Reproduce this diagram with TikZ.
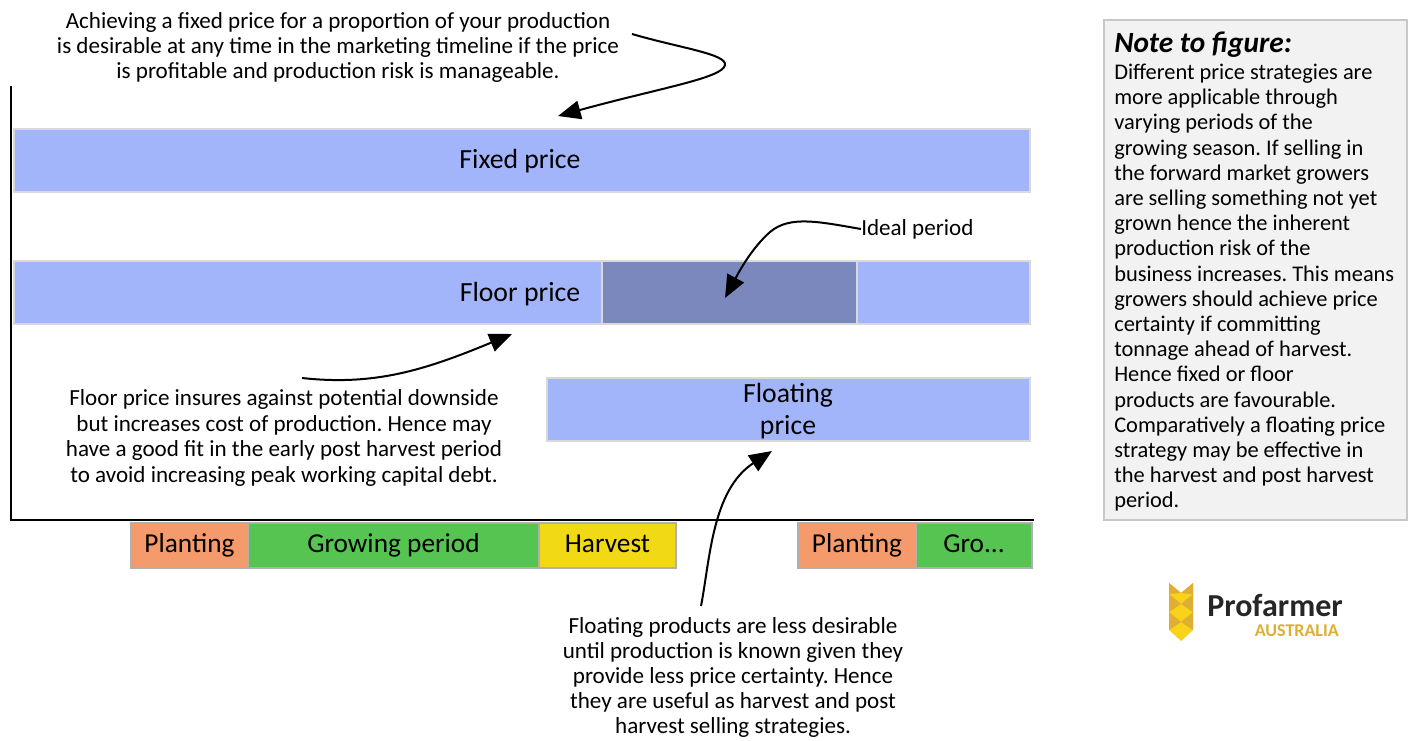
\documentclass[tikz,border=0pt]{standalone}
\usepackage{fontspec}
\usepackage{tikz}
\usetikzlibrary{arrows.meta}
\setmainfont{Carlito}
\frenchspacing
\definecolor{barblue}{HTML}{A3B5FA}
\definecolor{bardark}{HTML}{7B88BE}
\definecolor{barline}{HTML}{D9D9D9}
\definecolor{stageline}{HTML}{B0B0B0}
\definecolor{plantcol}{HTML}{F59B6B}
\definecolor{growcol}{HTML}{56C451}
\definecolor{harvestcol}{HTML}{F2D916}
\definecolor{notefill}{HTML}{F2F2F2}
\definecolor{noteline}{HTML}{C8C8C8}
\definecolor{logoyellow}{HTML}{F9D21A}
\definecolor{logogold}{HTML}{DFAE35}
\tikzset{
  barbox/.style={draw=barline,line width=1.5pt,fill=barblue,inner sep=0pt},
  bartext/.style={inner sep=0pt,align=center,font=\fontsize{20.8}{24}\selectfont},
  stagebox/.style={draw=stageline,line width=1.2pt,inner sep=0pt,text height=14pt,text depth=3.5pt,
    minimum height=33.75pt,font=\fontsize{20.5}{24}\selectfont},
  callout/.style={inner sep=0pt,align=center,font=\fontsize{17.3}{19.1}\selectfont},
  pointer/.style={line width=1.5pt,-{Triangle[length=17pt,width=14pt]}},
}
\begin{document}
\begin{tikzpicture}[x=0.75pt,y=0.75pt,yscale=-1,xscale=1]
\useasboundingbox (0,0) rectangle (1410,740);

% Axes
\coordinate (axistop) at (11,86);
\coordinate (axisorigin) at (11,520);
\coordinate (axisend) at (1034,520);
\draw [line width=1.5pt] (axistop) -- (axisorigin) -- (axisend);

% Price bars
\node [barbox,minimum width=762pt,minimum height=47.25pt] (fixedbar) at (522,160.5) {};
\node [bartext] (fixedtext) at (520,161) {Fixed price};
\node [barbox,minimum width=441pt,minimum height=47.25pt] (floorleft) at (308,292.5) {};
\node [barbox,fill=bardark,minimum width=191.25pt,minimum height=47.25pt] (floorideal) at (729.5,292.5) {};
\node [barbox,minimum width=129.75pt,minimum height=47.25pt] (floorright) at (943.5,292.5) {};
\node [bartext] (floortext) at (520,294) {Floor price};
\node [barbox,minimum width=362.25pt,minimum height=47.25pt] (floatbar) at (788.5,409.5) {};
\node [bartext] (floattext) at (788,411) {Floating\\price};

% Timeline
\node [stagebox,fill=plantcol,minimum width=87.75pt] (planta) at (189.5,545.5) {Planting};
\node [stagebox,fill=growcol,minimum width=218.25pt] (growa) at (393.5,545.5) {Growing period};
\node [stagebox,fill=harvestcol,minimum width=102.75pt] (harvesta) at (607.5,545.5) {Harvest};
\node [stagebox,fill=plantcol,minimum width=88.5pt] (plantb) at (857,545.5) {Planting};
\node [stagebox,fill=growcol,minimum width=87pt] (growb) at (974,545.5) {Gro...};

% Text Node
\node [callout] (fixednote) at (338,47.5) {Achieving a fixed price for a proportion of your production\\is desirable at any time in the marketing timeline if the price\\is profitable and production risk is manageable.};
% Text Node
\node [callout] (floornote) at (284,438) {Floor price insures against potential downside\\but increases cost of production. Hence may\\have a good fit in the early post harvest period\\to avoid increasing peak working capital debt.};
% Text Node
\node [callout,font=\fontsize{17.3}{18.8}\selectfont] (floatnote) at (733,677.5) {Floating products are less desirable\\until production is known given they\\provide less price certainty. Hence\\they are useful as harvest and post\\harvest selling strategies.};
% Text Node
\node [callout,anchor=west] (idealnote) at (861,229) {Ideal period};

% Connection
\coordinate (fixedstart) at (632,34);
\coordinate (fixedtip) at (558,116);
\draw [pointer] (fixedstart) .. controls (680,48) and (727,54) .. (725,65) .. controls (723,78) and (660,88) .. (fixedtip);
% Connection
\coordinate (idealtip) at (725,298);
\draw [pointer] (idealnote.west) .. controls (820,222) and (790,215) .. (770,232) .. controls (752,248) and (740,270) .. (idealtip);
% Connection
\coordinate (floorstart) at (302,378);
\coordinate (floortip) at (512,334);
\draw [pointer] (floorstart) .. controls (375,386) and (425,370) .. (floortip);
% Connection
\coordinate (floatstart) at (701,606);
\coordinate (floattip) at (772,451);
\draw [pointer] (floatstart) .. controls (710,560) and (712,490) .. (floattip);

% Note to figure
\node [draw=noteline,line width=1pt,fill=notefill,minimum width=227.25pt,minimum height=375pt,inner sep=0pt] (notebox) at (1255.5,270) {};
\node [anchor=north west,inner sep=0pt,align=left,font=\fontsize{16.8}{18.9}\selectfont] (notetext) at (1114,32) {{\fontsize{22}{18.9}\selectfont\bfseries\itshape Note to figure:}\\[1pt]Different price strategies are\\more applicable through\\varying periods of the\\growing season. If selling in\\the forward market growers\\are selling something not yet\\grown hence the inherent\\production risk of the\\business increases. This means\\growers should achieve price\\certainty if committing\\tonnage ahead of harvest.\\Hence fixed or floor\\products are favourable.\\Comparatively a floating price\\strategy may be effective in\\the harvest and post harvest\\period.};

% Logo
\fill [logoyellow] (1169,583) -- (1181,593) -- (1193,583) -- (1193,630) -- (1181,641) -- (1169,630) -- cycle;
\fill [logogold] (1169,594) -- (1181,604) -- (1169,612) -- cycle;
\fill [logogold] (1193,594) -- (1181,604) -- (1193,612) -- cycle;
\fill [logogold] (1169,612) -- (1181,622) -- (1169,630) -- cycle;
\fill [logogold] (1193,612) -- (1181,622) -- (1193,630) -- cycle;
\fill [logogold] (1169,583) -- (1181,593) -- (1169,594) -- cycle;
\fill [logogold] (1193,583) -- (1181,593) -- (1193,594) -- cycle;
\node [inner sep=0pt,anchor=base west,font=\fontsize{24}{24}\selectfont\bfseries,text=black!85] (logoname) at (1207,616) {Profarmer};
\node [inner sep=0pt,anchor=base east,font=\fontsize{13.5}{14}\selectfont\bfseries,text=logogold] (logoplace) at (1339,636) {AUSTRALIA};

\end{tikzpicture}
\end{document}
